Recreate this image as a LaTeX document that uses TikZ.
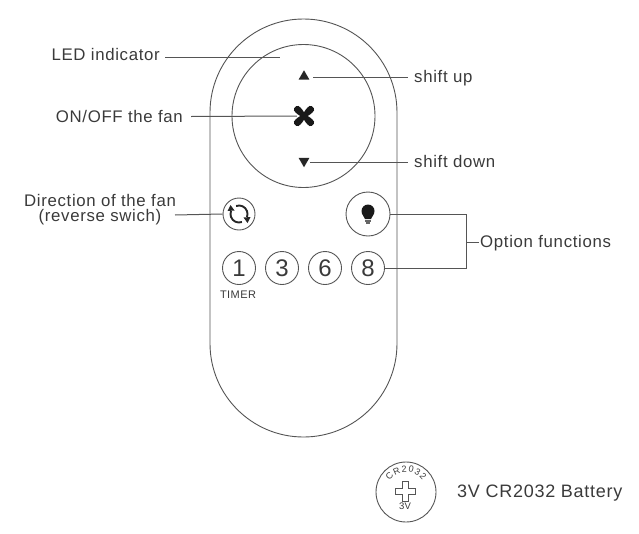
\documentclass[tikz,border=0pt]{standalone}
\usepackage{fontspec}
\setmainfont{Liberation Sans}[LetterSpace=4]
\usetikzlibrary{shapes.geometric,decorations.text,calc}
\definecolor{inkgray}{HTML}{3A3A3A}
\definecolor{wiregray}{HTML}{555555}
\tikzset{
  caption/.style={font=\fontsize{16.8}{15}\selectfont,text=inkgray,inner sep=0pt},
  wire/.style={draw=wiregray,line width=1pt},
  outline/.style={draw=wiregray,line width=0.9pt,circle,inner sep=0pt},
  numkey/.style={outline,minimum size=33pt,font=\fontsize{24}{24}\selectfont,text=inkgray},
  arrowkey/.style={regular polygon,regular polygon sides=3,fill=black!85,inner sep=0pt,minimum size=12.5pt},
}
\begin{document}
\begin{tikzpicture}[x=1pt,y=-1pt]
  \useasboundingbox (0,0) rectangle (639,533);
  % remote body and ring
  \node[draw=wiregray,line width=0.9pt,minimum width=187pt,minimum height=418pt,rounded corners=93.5pt] (body) at (303.5,228) {};
  \node[outline,minimum size=143pt] (ring) at (303.5,116) {};
  % arrows and fan
  \node[arrowkey] (up) at (304,76.5) {};
  \node[arrowkey,shape border rotate=180] (down) at (304,161) {};
  \node[minimum size=20pt,inner sep=0pt] (fan) at (304,116) {};
  \foreach \a in {45,135,225,315}
    \fill[black!90,rotate around={\a:(fan)},rounded corners=1.5pt] ($(fan)+(0,-2)$) -- ($(fan)+(7,-3.6)$) -- ($(fan)+(12.5,-3)$) -- ($(fan)+(12.5,3)$) -- ($(fan)+(7,3.6)$) -- ($(fan)+(0,2)$) -- cycle;
  % keys
  \node[outline,minimum size=32pt] (rev) at (239,214) {};
  \node[outline,minimum size=44pt] (lamp) at (368,214) {};
  \node[numkey] (one) at (239,268) {1};
  \node[numkey] (three) at (282,268) {3};
  \node[numkey] (six) at (325,268) {6};
  \node[numkey] (eight) at (368,268) {8};
  \node[font=\fontsize{11}{11}\selectfont,text=inkgray,inner sep=0pt] (timer) at (238,295) {TIMER};
  % reverse icon
  \begin{scope}[shift={(rev)},x=1pt,y=1pt]
    \draw[line width=1.9pt,black!85] (2.9,-8) arc[start angle=290,end angle=160,radius=8.5];
    \draw[line width=1.9pt,black!85] (-2.9,8) arc[start angle=110,end angle=-20,radius=8.5];
    \fill[black!85] (-8.5,9) -- (-11.5,3) -- (-4.5,3.5) -- cycle;
    \fill[black!85] (8.5,-9) -- (11.5,-3) -- (4.5,-3.5) -- cycle;
  \end{scope}
  % lamp icon
  \begin{scope}[shift={(lamp)},x=1pt,y=1pt]
    \fill[black!90] (-3,-5) .. controls (-3.5,-2.5) and (-6.5,-1) .. (-6.5,3) arc[start angle=180,end angle=0,radius=6.5] .. controls (6.5,-1) and (3.5,-2.5) .. (3,-5) -- cycle;
    \fill[black!60] (-3,-6) rectangle (3,-7.6);
    \fill[black!60] (-2,-8.4) rectangle (2,-10);
  \end{scope}
  % captions
  \node[caption,anchor=east] (ledlabel) at (160,54) {LED indicator};
  \node[caption,anchor=east] (fanlabel) at (183,116.5) {ON/OFF the fan};
  \node[caption,align=center] (dirlabel) at (100,210) {Direction of the fan\\(reverse swich)};
  \node[caption,anchor=west] (uplabel) at (414,78) {shift up};
  \node[caption,anchor=west] (downlabel) at (414,161.5) {shift down};
  \node[caption,anchor=west] (optlabel) at (480,243.5) {Option functions};
  % leaders
  \coordinate (ledend) at (280,57);
  \coordinate (optbar) at (466,242);
  \coordinate (optstub) at (479,242);
  \coordinate (dirstart) at (175,215);
  \coordinate (upstart) at (313,77);
  \coordinate (upend) at (408,77);
  \draw[wire] (ledlabel.east |- ledend) ++(5,0) -- (ledend);
  \draw[wire] ($(fanlabel.east)+(8,0)$) -- ($(fan.west)+(3,0)$);
  \draw[wire] (dirstart) -- (rev.west);
  \draw[wire] (upstart) -- (upend);
  \draw[wire] ($(down.east)+(2,1)$) -- ($(downlabel.west)+(-6,0.5)$);
  \draw[wire] (lamp.east) -- (lamp.east -| optbar) -- (eight.east -| optbar) -- (eight.east);
  \draw[wire] (optbar) -- (optstub);
  % battery
  \node[outline,minimum size=60pt] (cell) at (406,492) {};
  \begin{scope}[shift={(cell)},x=1pt,y=1pt]
    \path[decorate,decoration={text along path,text align=fit to path,text={|\fontsize{9}{9}\selectfont\color{inkgray}|CR2032}}] (145:20) arc[start angle=145,end angle=35,radius=20];
    \draw[wiregray,line width=0.9pt,shift={(-0.7,1)}] (-3,10) -- (3,10) -- (3,3) -- (10,3) -- (10,-3) -- (3,-3) -- (3,-10) -- (-3,-10) -- (-3,-3) -- (-10,-3) -- (-10,3) -- (-3,3) -- cycle;
  \end{scope}
  \node[font=\fontsize{9.5}{10}\selectfont,text=inkgray,inner sep=0pt] (cellvolt) at (405,506) {3V};
  \node[caption,anchor=west,font=\fontsize{18}{18}\selectfont] (celllabel) at (457,493.5) {3V CR2032 Battery};
\end{tikzpicture}
\end{document}
